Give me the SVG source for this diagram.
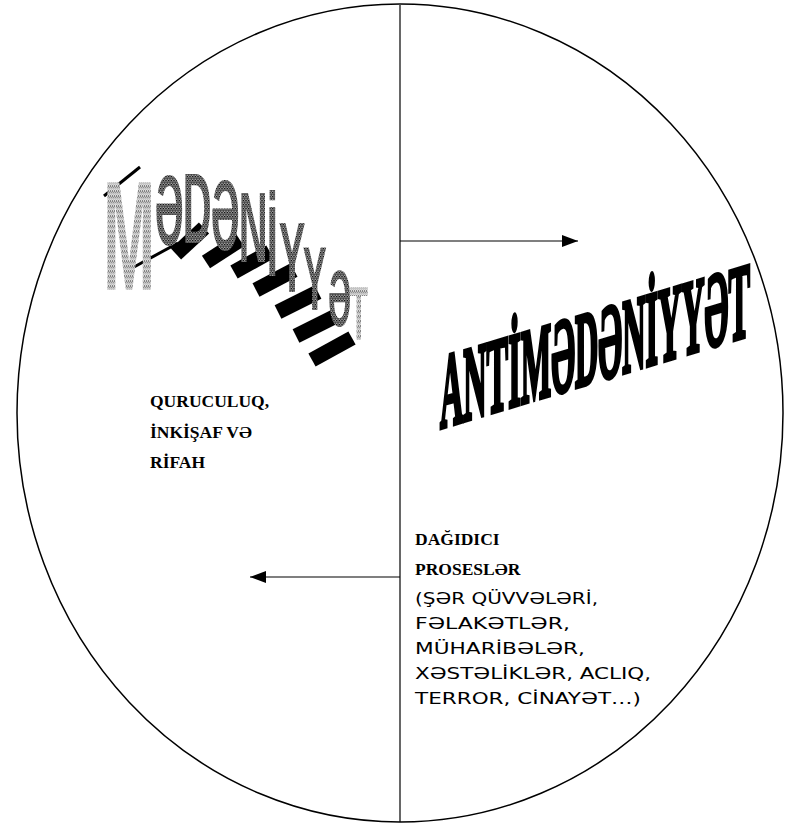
<svg xmlns="http://www.w3.org/2000/svg" width="785" height="825" viewBox="0 0 785 825">
  <style>
    .outline { fill: none; stroke: #000; stroke-width: 1.5; }
    .conn { fill: none; stroke: #000; stroke-width: 1.2; }
    .bold { font-family: "Liberation Serif", "DejaVu Serif", serif; font-weight: bold; font-size: 17.5px; fill: #000; }
    .small { font-family: "DejaVu Sans", "Liberation Sans", sans-serif; font-size: 15px; fill: #000; }
    .wa { font-family: "Liberation Sans", "DejaVu Sans", sans-serif; font-weight: bold; fill: url(#stipple); }
    .wa2 { font-family: "Liberation Sans", "DejaVu Sans", sans-serif; font-weight: bold; fill: url(#stipple2); }
    .bar { stroke: #000; stroke-width: 15; stroke-linecap: butt; fill: none; }
  </style>
  <defs>
    <marker id="arrow" viewBox="0 0 16 12" refX="16" refY="6" markerWidth="16" markerHeight="12" markerUnits="userSpaceOnUse" orient="auto">
      <path d="M0,0 L16,6 L0,12 Z" fill="#000"/>
    </marker>
    <pattern id="stipple" width="5" height="5" patternUnits="userSpaceOnUse">
      <rect width="5" height="5" fill="#c4c4c4"/>
      <rect x="0" y="0" width="1" height="2" fill="#222"/>
      <rect x="3" y="2" width="1" height="1" fill="#444"/>
      <rect x="1" y="4" width="1" height="1" fill="#fff"/>
      <rect x="4" y="0" width="1" height="1" fill="#fff"/>
    </pattern>
    <pattern id="stipple2" width="4" height="4" patternUnits="userSpaceOnUse">
      <rect width="4" height="4" fill="#6a6a6a"/>
      <rect x="0" y="0" width="2" height="1" fill="#000"/>
      <rect x="2" y="2" width="1" height="2" fill="#111"/>
      <rect x="3" y="0" width="1" height="1" fill="#ddd"/>
      <rect x="1" y="3" width="1" height="1" fill="#eee"/>
    </pattern>
  </defs>

  <g id="circle">
    <ellipse class="outline" cx="400" cy="413" rx="383" ry="409"/>
  </g>

  <g id="connectors">
    <line class="conn" x1="400" y1="5" x2="400" y2="822"/>
    <line class="conn" x1="400" y1="241" x2="578" y2="241" marker-end="url(#arrow)"/>
    <line class="conn" x1="400" y1="577" x2="250" y2="577" marker-end="url(#arrow)"/>
  </g>

  <g id="medeniyyet-wordart">
    <line x1="104" y1="196" x2="140" y2="167" stroke="#000" stroke-width="3"/>
    <line x1="134" y1="267" x2="178" y2="243" stroke="#000" stroke-width="3"/>
    <line class="bar" x1="176" y1="254" x2="204" y2="228"/>
    <line class="bar" x1="206" y1="262" x2="240" y2="240"/>
    <line class="bar" x1="234" y1="272" x2="270" y2="252"/>
    <line class="bar" x1="256" y1="290" x2="294" y2="270"/>
    <line class="bar" x1="278" y1="312" x2="318" y2="292"/>
    <line class="bar" x1="296" y1="336" x2="336" y2="316"/>
    <line class="bar" x1="312" y1="360" x2="352" y2="338"/>
    <text class="wa2" transform="scale(0.4 1)"><tspan x="258" y="290" font-size="155" fill="url(#stipple)">M</tspan><tspan x="387" y="245" font-size="100">Ə</tspan><tspan x="457" y="243" font-size="100">D</tspan><tspan x="527" y="250" font-size="100">Ə</tspan><tspan x="597" y="262" font-size="100">N</tspan><tspan x="667" y="276" font-size="100">İ</tspan><tspan x="697" y="292" font-size="100">Y</tspan><tspan x="757" y="310" font-size="90">Y</tspan><tspan x="820" y="326" font-size="80">Ə</tspan><tspan x="874" y="340" font-size="76" fill="url(#stipple)">T</tspan></text>
  </g>

  <g id="antimedeniyyet">
    <text transform="translate(440,428) skewY(-16.7) scale(0.306 1)" x="0" y="0" font-family="Liberation Serif, DejaVu Serif, serif" font-weight="bold" font-size="106" textLength="1013" lengthAdjust="spacingAndGlyphs" fill="#000" stroke="#000" stroke-width="5">ANTİMƏDƏNİYYƏT</text>
  </g>

  <g id="left-text">
    <text class="bold" x="150" y="407">QURUCULUQ,</text>
    <text class="bold" x="150" y="438">İNKİŞAF VƏ</text>
    <text class="bold" x="150" y="468">RİFAH</text>
  </g>

  <g id="right-text">
    <text class="bold" x="415" y="545">DAĞIDICI</text>
    <text class="bold" x="415" y="575">PROSESLƏR</text>
    <text class="small" x="415" y="604" textLength="183" lengthAdjust="spacingAndGlyphs">(ŞƏR QÜVVƏLƏRİ,</text>
    <text class="small" x="415" y="629" textLength="155" lengthAdjust="spacingAndGlyphs">FƏLAKƏTLƏR,</text>
    <text class="small" x="415" y="654" textLength="170" lengthAdjust="spacingAndGlyphs">MÜHARİBƏLƏR,</text>
    <text class="small" x="415" y="679" textLength="236" lengthAdjust="spacingAndGlyphs">XƏSTƏLİKLƏR, ACLIQ,</text>
    <text class="small" x="415" y="704" textLength="226" lengthAdjust="spacingAndGlyphs">TERROR, CİNAYƏT…)</text>
  </g>
</svg>
